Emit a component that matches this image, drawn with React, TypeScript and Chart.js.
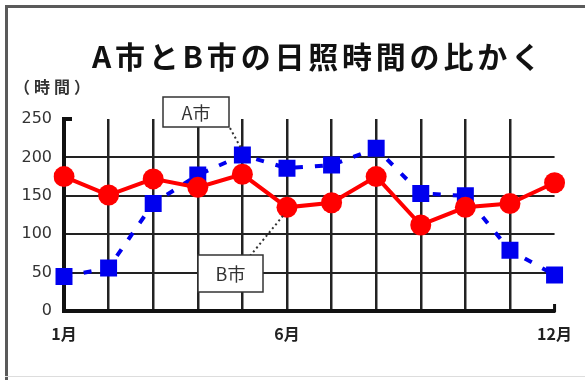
import React, { useEffect, useRef } from "react";
import { Chart, registerables } from "chart.js";

Chart.register(...registerables);

const months = ["1月", "2月", "3月", "4月", "5月", "6月", "7月", "8月", "9月", "10月", "11月", "12月"];
const shownMonthLabels = ["1月", "6月", "12月"];
const cityA = [175, 151, 172, 161, 178, 135, 141, 175, 112, 135, 140, 167];
const cityB = [45, 56, 140, 177, 203, 186, 190, 212, 153, 150, 79, 47];
const titleText = "A市とB市の日照時間の比かく";
const unitText = "（時間）";
const labelA = "A市";
const labelB = "B市";

const JP = '"Noto Sans CJK JP", "Noto Sans", sans-serif';

function spacedText(ctx: any, text: string, left: number, right: number, y: number) {
  const chars = Array.from(text);
  const widths = chars.map((c) => ctx.measureText(c).width);
  const total = widths.reduce((a, b) => a + b, 0);
  const gap = (right - left - total) / (chars.length - 1);
  let x = left;
  chars.forEach((c, i) => {
    ctx.fillText(c, x, y);
    x += widths[i] + gap;
  });
}

const decorPlugin = {
  id: "decor",
  beforeDraw(chart: any) {
    const ctx = chart.ctx;
    ctx.save();
    ctx.fillStyle = "#ffffff";
    ctx.fillRect(0, 0, chart.width, chart.height);
    ctx.fillStyle = "#5a5a5a";
    ctx.fillRect(5, 5, chart.width - 5, 3);
    ctx.fillRect(5, 5, 3, chart.height - 5);
    ctx.fillStyle = "#dddddd";
    ctx.fillRect(5, 376, chart.width - 5, 1);
    ctx.restore();
  },
  afterDraw(chart: any) {
    const ctx = chart.ctx;
    const xs = chart.scales.x;
    const ys = chart.scales.y;
    ctx.save();
    ctx.font = `bold 30px ${JP}`;
    ctx.fillStyle = "#111";
    ctx.textBaseline = "middle";
    ctx.textAlign = "left";
    spacedText(ctx, titleText, 92, 541, 57);

    ctx.font = `bold 16px ${JP}`;
    ctx.fillStyle = "#333";
    spacedText(ctx, unitText, 14, 90, 87);

    const left = chart.chartArea.left;
    const right = chart.chartArea.right;
    const top = ys.getPixelForValue(250);
    const bottom = ys.getPixelForValue(0);
    ctx.strokeStyle = "#111";
    ctx.lineWidth = 4;
    ctx.beginPath();
    ctx.moveTo(left - 2, top);
    ctx.lineTo(left + 8, top);
    ctx.stroke();
    ctx.lineWidth = 3;
    ctx.beginPath();
    ctx.moveTo(right, bottom + 1);
    ctx.lineTo(right, bottom - 7);
    ctx.stroke();

    const box = (bx: number, by: number, bw: number, bh: number, text: string) => {
      ctx.fillStyle = "#fff";
      ctx.fillRect(bx, by, bw, bh);
      ctx.strokeStyle = "#333";
      ctx.lineWidth = 1.5;
      ctx.strokeRect(bx, by, bw, bh);
      ctx.fillStyle = "#333";
      ctx.font = `18px ${JP}`;
      ctx.textAlign = "center";
      ctx.textBaseline = "middle";
      ctx.fillText(text, bx + bw / 2, by + bh / 2 + 1);
    };
    const leader = (x1: number, y1: number, x2: number, y2: number) => {
      ctx.strokeStyle = "#333";
      ctx.lineWidth = 2;
      ctx.setLineDash([2, 3]);
      ctx.beginPath();
      ctx.moveTo(x1, y1);
      ctx.lineTo(x2, y2);
      ctx.stroke();
      ctx.setLineDash([]);
    };
    const x5 = xs.getPixelForValue(4);
    const x6 = xs.getPixelForValue(5);
    leader(230, 128, x5 - 2, ys.getPixelForValue(cityB[4]) - 8);
    leader(250, 256, x6 - 2, ys.getPixelForValue(cityA[5]) + 6);
    box(163, 97, 66, 30, labelA);
    box(198, 255, 65, 37, labelB);
    ctx.restore();
  },
};

export default function App() {
  const ref = useRef<HTMLCanvasElement | null>(null);
  useEffect(() => {
    if (!ref.current) return;
    const chart = new Chart(ref.current, {
      type: "line",
      data: {
        labels: months,
        datasets: [
          {
            label: labelA,
            data: cityA,
            borderColor: "#ff0000",
            backgroundColor: "#ff0000",
            borderWidth: 4,
            pointRadius: 10.5,
            pointBorderWidth: 0,
            pointStyle: "circle",
            tension: 0,
          },
          {
            label: labelB,
            data: cityB,
            borderColor: "#0000ee",
            backgroundColor: "#0000ee",
            borderWidth: 4,
            borderDash: [8, 12],
            pointRadius: 12,
            pointBorderWidth: 0,
            pointStyle: "rect",
            tension: 0,
          },
        ],
      },
      options: {
        responsive: false,
        animation: false,
        events: [],
        layout: { padding: { left: 0, right: 22, top: 119, bottom: 0 } },
        plugins: {
          legend: { display: false },
          title: { display: false },
          tooltip: { enabled: false },
        },
        scales: {
          x: {
            type: "category",
            offset: false,
            afterFit: (s: any) => {
              s.height = 69;
            },
            grid: {
              drawTicks: false,
              lineWidth: 2.5,
              color: (c: any) =>
                c.index === 0 || c.index === months.length - 1 ? "rgba(0,0,0,0)" : "#222",
            },
            border: { display: true, color: "#111", width: 4 },
            ticks: {
              autoSkip: false,
              maxRotation: 0,
              padding: 13,
              color: "#222",
              font: { family: JP, size: 16, weight: "bold" },
              callback: (_v: any, i: number) =>
                shownMonthLabels.includes(months[i]) ? months[i] : "",
            },
          },
          y: {
            min: 0,
            max: 250,
            afterFit: (s: any) => {
              s.width = 64;
            },
            grid: {
              drawTicks: false,
              lineWidth: 2,
              color: (c: any) =>
                c.tick && (c.tick.value === 250 || c.tick.value === 0) ? "rgba(0,0,0,0)" : "#222",
            },
            border: { display: true, color: "#111", width: 4 },
            ticks: {
              stepSize: 50,
              padding: 12,
              color: "#333",
              font: { family: '"DejaVu Sans", sans-serif', size: 16 },
            },
          },
        },
      },
      plugins: [decorPlugin],
    } as any);
    return () => chart.destroy();
  }, []);
  return (
    <div style={{ position: "absolute", left: 0, top: 0, width: 585, height: 380 }}>
      <canvas ref={ref} width={585} height={380} style={{ display: "block" }} />
    </div>
  );
}
